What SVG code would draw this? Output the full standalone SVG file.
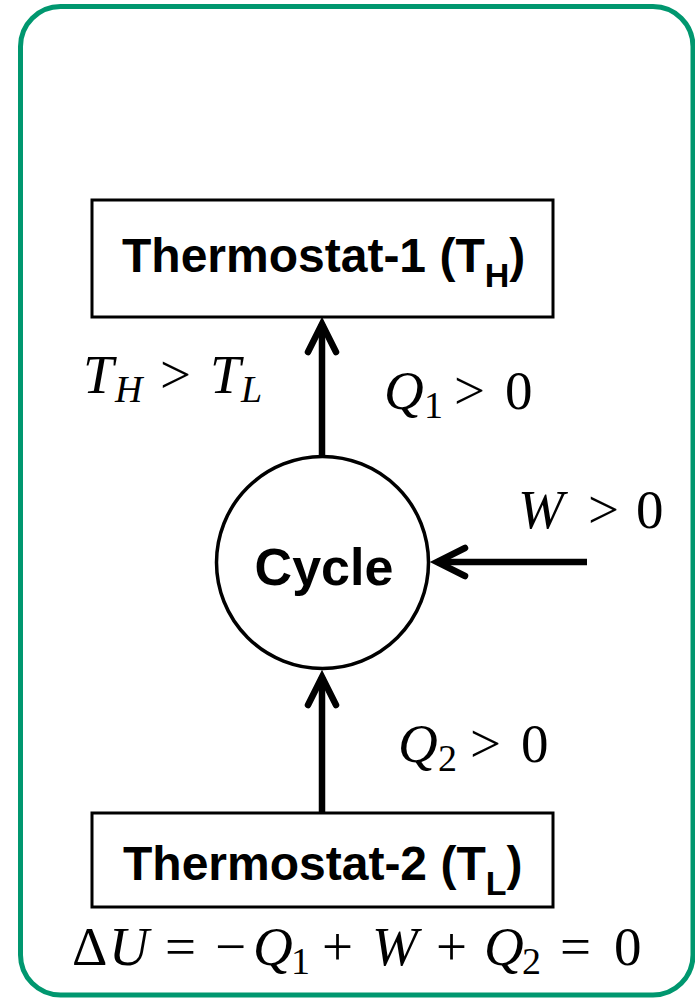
<svg xmlns="http://www.w3.org/2000/svg" width="695" height="998" viewBox="0 0 695 998">
<style>
.frame{fill:#fff;stroke:#00976F;stroke-width:5}
.box{fill:#fff;stroke:#000;stroke-width:3}
.circ{fill:#fff;stroke:#000;stroke-width:3.5}
.lbl{font-family:"Liberation Sans",Arial,sans-serif;font-weight:bold;fill:#000}
.m{font-family:"Liberation Serif","Times New Roman",serif;font-size:55px;fill:#000}
.i{font-style:italic}
.s{font-size:38px}
.conn{stroke:#000;stroke-width:6.5;fill:none;marker-end:url(#ah)}
</style>
<defs>
<marker id="ah" markerUnits="userSpaceOnUse" viewBox="-40 -25 50 50" markerWidth="50" markerHeight="50" refX="0" refY="0" orient="auto" overflow="visible">
<path d="M-28,-14 L0,0 L-28,14" fill="none" stroke="#000" stroke-width="6.5" stroke-linecap="round" stroke-linejoin="miter" stroke-miterlimit="10"/>
</marker>
</defs>
<rect class="frame" x="20.5" y="6.5" width="672.5" height="988.5" rx="40" ry="40"/>
<g id="connectors">
<line class="conn" x1="322" y1="455" x2="322" y2="324"/>
<line class="conn" x1="322" y1="813" x2="322" y2="677"/>
<line class="conn" x1="587" y1="562" x2="437" y2="562"/>
</g>
<g id="node-thermostat1">
<rect class="box" x="92" y="200" width="461" height="117"/>
<text class="lbl" x="122" y="272" font-size="48">Thermostat-1 (T<tspan font-size="34" dy="15">H</tspan><tspan dy="-15">)</tspan></text>
</g>
<g id="node-cycle">
<circle class="circ" cx="322.5" cy="562.5" r="106"/>
<text class="lbl" x="324" y="585" font-size="52" text-anchor="middle">Cycle</text>
</g>
<g id="node-thermostat2">
<rect class="box" x="92" y="813" width="461" height="94"/>
<text class="lbl" x="123" y="880" font-size="48">Thermostat-2 (T<tspan font-size="34" dy="15">L</tspan><tspan dy="-15">)</tspan></text>
</g>
<g id="labels">
<text class="m" y="393"><tspan class="i" x="83">T</tspan><tspan class="i s" x="115" dy="9">H</tspan><tspan x="160" dy="-9">&gt;</tspan><tspan class="i" x="210">T</tspan><tspan class="i s" x="241" dy="9">L</tspan></text>
<text class="m" y="409"><tspan class="i" x="384">Q</tspan><tspan class="s" x="424" dy="9">1</tspan><tspan x="454" dy="-9">&gt;</tspan><tspan x="505">0</tspan></text>
<text class="m" y="528"><tspan class="i" x="518">W</tspan><tspan x="588">&gt;</tspan><tspan x="636">0</tspan></text>
<text class="m" y="762"><tspan class="i" x="398">Q</tspan><tspan class="s" x="438" dy="9">2</tspan><tspan x="470" dy="-9">&gt;</tspan><tspan x="521">0</tspan></text>
<text class="m" y="965"><tspan x="72">Δ</tspan><tspan class="i" x="109">U</tspan><tspan x="165">=</tspan><tspan x="215">−</tspan><tspan class="i" x="253">Q</tspan><tspan class="s" x="291" dy="9">1</tspan><tspan x="322" dy="-9">+</tspan><tspan class="i" x="372">W</tspan><tspan x="436">+</tspan><tspan class="i" x="484">Q</tspan><tspan class="s" x="522" dy="9">2</tspan><tspan x="560" dy="-9">=</tspan><tspan x="614">0</tspan></text>
</g>
</svg>
